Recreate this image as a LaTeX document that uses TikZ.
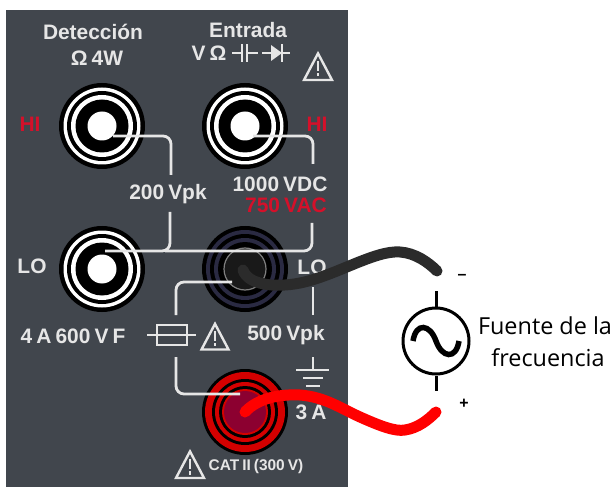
\documentclass[tikz,border=0pt]{standalone}
\usepackage{fontspec}
\setmainfont[WordSpace=0.7]{Liberation Sans}
\newfontfamily\srcfont{Open Sans}
\definecolor{panel}{HTML}{41464D}
\definecolor{ink}{HTML}{E6E6E6}
\definecolor{redtxt}{HTML}{D5102A}
\definecolor{navy}{HTML}{2A2A42}
\definecolor{jackred}{HTML}{D40000}
\definecolor{maroon}{HTML}{8C0030}
\definecolor{cable}{HTML}{2B2B2B}
\tikzset{
 x=1bp,y=-1bp,
 wire/.style={draw=ink,line width=2.8bp,rounded corners=8bp},
 sym/.style={draw=ink,line width=2.4bp},
 lab/.style={text=ink,font=\fontsize{21}{23}\selectfont\bfseries,inner sep=0pt},
 redlab/.style={text=redtxt,font=\fontsize{21}{23}\selectfont\bfseries,inner sep=0pt},
 warn/.style={draw=ink,line width=2.4bp,line join=miter},
 cablew/.style={line width=11bp,line cap=round},
 src/.style={text=black,font=\srcfont\fontsize{23.5}{25}\selectfont,inner sep=0pt},
 srcline/.style={draw=black,line width=3bp},
}
\begin{document}
\begin{tikzpicture}
\useasboundingbox (0,0) rectangle (616,487);
\fill[white] (0,0) rectangle (616,487);
\fill[panel] (6,10) rectangle (348,487);
% jacks
\coordinate (j1) at (102,126);
\coordinate (j2) at (245,126);
\coordinate (j3) at (102,269);
\coordinate (j4) at (245,269);
\coordinate (j5) at (245,412);
\foreach \c in {j1,j2,j3}{
 \fill[black] (\c) circle (43);
 \fill[white] (\c) circle (38.5);
 \fill[black] (\c) circle (35);
 \fill[white] (\c) circle (31);
 \fill[black] (\c) circle (26.5);
 \fill[white] (\c) circle (14.5);
}
\fill[black] (j4) circle (43);
\fill[navy] (j4) circle (39);
\fill[black] (j4) circle (35);
\fill[navy] (j4) circle (31);
\fill[black] (j4) circle (27);
\draw[gray,line width=1.2bp,fill=black!90] (j4) circle (21);
\fill[black] (j5) circle (43);
\fill[jackred] (j5) circle (40);
\fill[black] (j5) circle (33);
\fill[jackred] (j5) circle (30);
\fill[black] (j5) circle (26);
\fill[jackred] (j5) circle (23);
\fill[maroon] (j5) circle (21);
% wires
\coordinate (w1a) at (113,136);
\coordinate (w1b) at (171,175);
\coordinate (w2a) at (253,136);
\coordinate (w2b) at (313,164);
\coordinate (w3a) at (105,251);
\coordinate (w3b) at (170,212);
\coordinate (w3c) at (173,251);
\coordinate (w3d) at (312,223);
\coordinate (w4a) at (232,282);
\coordinate (w4b) at (176,315);
\coordinate (w4c) at (176,357);
\coordinate (w4d) at (240,394);
\coordinate (w4e) at (313,287);
\coordinate (w4f) at (313,315);
\coordinate (g1) at (313,357);
\draw[wire] (w1a) -| (w1b);
\draw[wire] (w2a) -| (w2b);
\draw[wire] (w3a) -| (w3b);
\draw[wire] (w3b |- w3a) -- (w3c) -- (w3c -| w3d) -- (w3d);
\draw[wire] (w4a) -| (w4b);
\draw[wire] (w4c) |- (w4d);
\draw[wire] (w4e) -- (w4f);
% ground
\coordinate (g2) at (313,370);
\draw[sym] (g1) -- (g2);
\draw[sym] (296,370) -- (329,370);
\draw[sym] (303,378) -- (323,378);
\draw[sym] (306,386) -- (320,386);
% fuse
\node[draw=ink,line width=2.4bp,minimum width=30bp,minimum height=20bp,inner sep=0pt] (fuse) at (172,335) {};
\coordinate (fl) at (147,335);
\coordinate (fr) at (196,335);
\draw[sym] (fl) -- (fr);
% warning triangles
\newcommand{\warntri}[3]{%
 \draw[warn] (#1-#3,#2+#3) -- (#1,#2-#3*0.9) -- (#1+#3,#2+#3) -- cycle;
 \fill[ink] (#1-0.1*#3,#2-0.35*#3) rectangle (#1+0.1*#3,#2+0.35*#3);
 \fill[ink] (#1-0.1*#3,#2+0.5*#3) rectangle (#1+0.1*#3,#2+0.75*#3);
}
\warntri{318}{66}{14}
\warntri{215}{336}{13.5}
\warntri{190}{464}{14}
% texts
\node[lab] (t1) at (93,32) {Detección};
\node[lab] (t2) at (97,58) {Ω 4W};
\node[lab] (t3) at (248,30) {Entrada};
\node[lab] (t4) at (209,53) {V Ω};
% capacitor, diode
\draw[sym] (232,53) -- (242,53) (247,53) -- (258,53);
\draw[sym] (242,44) -- (242,62) (247,44) -- (247,62);
\draw[sym] (262,53) -- (290,53) (282,44) -- (282,62);
\fill[ink] (271,45) -- (282,53) -- (271,61) -- cycle;
\node[redlab] (t5) at (30,124) {HI};
\node[redlab] (t6) at (317,124) {HI};
\node[lab] (t7) at (168,194) {200 Vpk};
\node[lab] (t8) at (280,184) {1000 VDC};
\node[redlab] (t9) at (286,205) {750 VAC};
\node[lab] (t10) at (32,266) {LO};
\node[lab] (t11) at (312,267) {LO};
\node[lab] (t12) at (73,336) {4 A 600 V F};
\node[lab] (t13) at (286,335) {500 Vpk};
\node[lab] (t14) at (311,412) {3 A};
\node[lab,font=\fontsize{15.5}{17}\selectfont\bfseries] (t15) at (256,467) {CAT II (300 V)};
% source
\node[circle,draw=black,line width=3bp,minimum size=66bp,inner sep=0pt] (ac) at (436,341) {};
\coordinate (ltop) at (436,291);
\coordinate (lbot) at (436,391);
\draw[srcline] (ltop) -- (ac.north);
\draw[srcline] (ac.south) -- (lbot);
\draw[black,line width=5.5bp] (413,341) .. controls (416,322) and (430,324) .. (436,341) .. controls (442,358) and (456,360) .. (459,341);
\coordinate (bs) at (243,270);
\coordinate (be) at (437,271);
\coordinate (rs) at (245,412);
\coordinate (re) at (436,412);
\draw[cablew,cable] (bs) .. controls (248,285) and (275,288) .. (300,283) .. controls (335,276) and (375,250) .. (400,252) .. controls (415,253) and (428,262) .. (be);
\draw[cablew,red] (rs) .. controls (258,398) and (280,394) .. (300,395) .. controls (325,397) and (340,408) .. (360,417) .. controls (378,425) and (395,432) .. (405,430) .. controls (418,428) and (428,420) .. (re);
\node[font=\fontsize{16}{18}\selectfont\bfseries,inner sep=0pt] (minus) at (462,277) {–};
\node[font=\fontsize{16}{18}\selectfont\bfseries,inner sep=0pt] (plus) at (464,404) {+};
\node[src] (s1) at (545,326) {Fuente de la};
\node[src] (s2) at (548,358) {frecuencia};
\end{tikzpicture}
\end{document}
